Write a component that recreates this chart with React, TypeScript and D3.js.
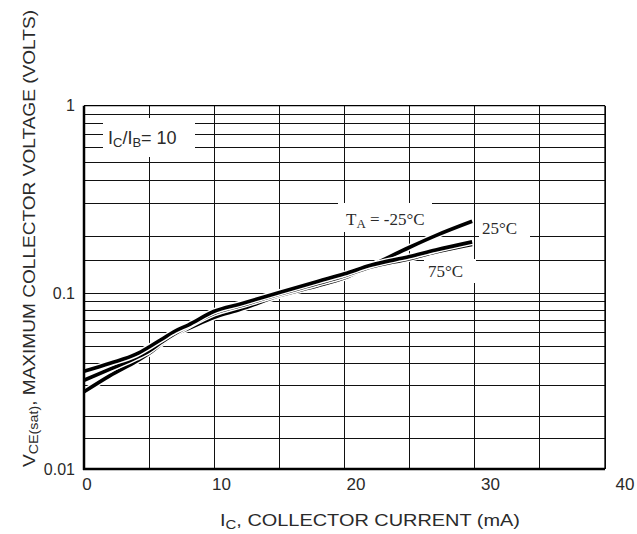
import React from 'react';
import * as d3 from 'd3';

// collector current (mA) and VCE(sat) readings for the three temperatures
const currents = [0, 2, 4, 5, 6, 7, 8, 10, 12, 15, 18, 20, 22, 25, 27, 29.8];
const vceMinus25 = [0.036, 0.04, 0.045, 0.0495, 0.055, 0.061, 0.066, 0.079, 0.087, 0.101, 0.116, 0.127, 0.141, 0.157, 0.17, 0.188];
const vce75 = [0.032, 0.037, 0.043, 0.047, 0.053, 0.059, 0.065, 0.077, 0.085, 0.099, 0.113, 0.124, 0.138, 0.153, 0.166, 0.182];
const vce25 = [0.0275, 0.034, 0.041, 0.0455, 0.052, 0.0585, 0.063, 0.073, 0.081, 0.097, 0.11, 0.121, 0.14, 0.176, 0.203, 0.242];

const xTicks = [0, 10, 20, 30, 40];
const xGrid = [0, 5, 10, 15, 20, 25, 30, 35, 40];
const yTicks = [0.01, 0.1, 1];
const yTickLabels = ['0.01', '0.1', '1'];
const yGrid = [
  0.01, 0.015, 0.02, 0.03, 0.04, 0.05, 0.06, 0.07, 0.08, 0.09,
  0.1, 0.15, 0.2, 0.3, 0.4, 0.5, 0.6, 0.7, 0.8, 0.9, 1,
];

const W = 637;
const H = 534;
const font = "'Liberation Sans', Arial, sans-serif";
const ink = '#2a2a2a';

export default function App() {
  const x = d3.scaleLinear().domain([0, 40]).range([84, 605]);
  // printed tick labels sit a little to the right of their gridlines
  const xLabel = d3.scaleLinear().domain([0, 40]).range([87, 625]);
  const y = d3.scaleLog().domain([0.01, 0.1, 1]).range([469, 293.3, 105.7]);

  const line = d3.line<[number, number]>()
    .x(d => x(d[0]))
    .y(d => y(d[1]))
    .curve(d3.curveMonotoneX);

  const series = [vce25, vce75, vceMinus25].map(vals =>
    currents.map((c, i) => [c, vals[i]] as [number, number])
  );

  const [x0, x1] = x.range();
  const yTop = y(1);
  const yBot = y(0.01);

  return (
    <svg width={W} height={H} style={{ position: 'absolute', left: 0, top: 0, background: '#fff' }}>
      {/* grid */}
      <g stroke="#111" strokeWidth={1} shapeRendering="crispEdges">
        {yGrid.map(v => (
          <line key={'h' + v} x1={x0} x2={x1} y1={y(v)} y2={y(v)} />
        ))}
        {xGrid.map(v => (
          <line key={'v' + v} x1={x(v)} x2={x(v)} y1={yTop} y2={yBot} />
        ))}
      </g>

      {/* white patches behind the labels */}
      <g fill="#fff">
        <rect x={103} y={118} width={92} height={39} />
        <rect x={338} y={203} width={94} height={29} />
        <rect x={479} y={218} width={51} height={30} />
        <rect x={424} y={259} width={52} height={24} />
      </g>

      {/* curves: white halo under each black stroke */}
      {series.map((s, i) => (
        <g key={i} fill="none">
          <path d={line(s) || ''} stroke="#fff" strokeWidth={6.5} />
          <path d={line(s) || ''} stroke="#000" strokeWidth={3.6} />
        </g>
      ))}

      {/* frame */}
      <line x1={x0} x2={x0} y1={yTop} y2={yBot + 1} stroke="#000" strokeWidth={2.5} />
      <line x1={x0 - 1} x2={x1} y1={yBot} y2={yBot} stroke="#000" strokeWidth={2.5} />
      <line x1={x0} x2={x1} y1={yTop} y2={yTop} stroke="#000" strokeWidth={1.3} />
      <line x1={x1} x2={x1} y1={yTop} y2={yBot} stroke="#000" strokeWidth={1.3} />

      {/* tick labels */}
      <g fontFamily={font} fill={ink} fontSize={17}>
        {xTicks.map(t => (
          <text key={t} x={xLabel(t)} y={490} textAnchor="middle">{t}</text>
        ))}
      </g>
      <g fontFamily={font} fill={ink} fontSize={16}>
        {yTicks.map((t, i) => (
          <text key={t} x={75} y={y(t)} dy="0.36em" textAnchor="end">{yTickLabels[i]}</text>
        ))}
      </g>

      {/* axis titles */}
      <text x={220} y={526} fontFamily={font} fontSize={16} fill={ink} textLength={300} lengthAdjust="spacingAndGlyphs">
        I<tspan fontSize={12} dy={3}>C</tspan><tspan dy={-3}>, COLLECTOR CURRENT (mA)</tspan>
      </text>
      <text
        transform="translate(35,467) rotate(-90)"
        fontFamily={font}
        fontSize={16}
        fill={ink}
        textLength={457}
        lengthAdjust="spacingAndGlyphs"
      >
        V<tspan fontSize={12} dy={3}>CE(sat)</tspan><tspan dy={-3}>, MAXIMUM COLLECTOR VOLTAGE (VOLTS)</tspan>
      </text>

      {/* annotations */}
      <g fontFamily={font} fill={ink}>
        <text x={108} y={144} fontSize={18}>
          I<tspan fontSize={13} dy={3}>C</tspan><tspan dy={-3}>/I</tspan><tspan fontSize={13} dy={3}>B</tspan><tspan dy={-3}>= 10</tspan>
        </text>
      </g>
      <g fontFamily="'Liberation Serif', 'DejaVu Serif', serif" fill={ink} fontSize={17}>
        <text x={346} y={225}>
          T<tspan fontSize={13} dy={3}>A</tspan><tspan dy={-3}> = -25°C</tspan>
        </text>
        <text x={482} y={234}>25°C</text>
        <text x={428} y={277}>75°C</text>
      </g>
    </svg>
  );
}
